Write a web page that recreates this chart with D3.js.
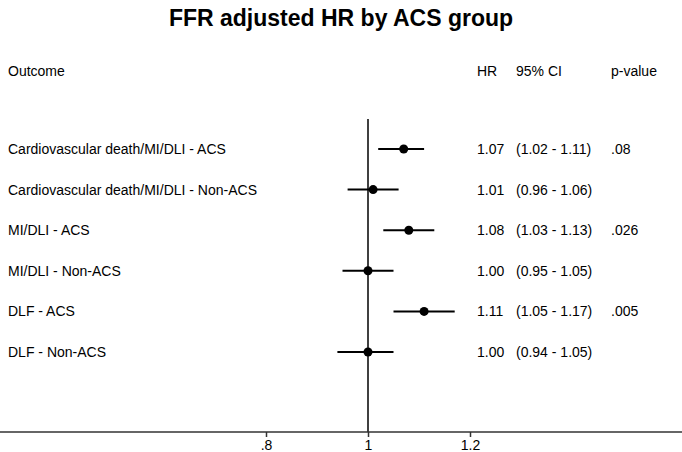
<!DOCTYPE html>
<html>
<head>
<meta charset="utf-8">
<script src="https://cdn.jsdelivr.net/npm/d3@7"></script>
<style>
  body { margin: 0; background: #fff; }
  svg { display: block; font-family: "Liberation Sans", Arial, sans-serif; }
</style>
</head>
<body>
<svg id="chart" width="682" height="452"></svg>
<script>
// outcomes and estimates
var outcomes = [
  "Cardiovascular death/MI/DLI - ACS",
  "Cardiovascular death/MI/DLI - Non-ACS",
  "MI/DLI - ACS",
  "MI/DLI - Non-ACS",
  "DLF - ACS",
  "DLF - Non-ACS"
];
var hr = [1.07, 1.01, 1.08, 1.00, 1.11, 1.00];
var ciLow = [1.02, 0.96, 1.03, 0.95, 1.05, 0.94];
var ciHigh = [1.11, 1.06, 1.13, 1.05, 1.17, 1.05];
var pValues = [".08", "", ".026", "", ".005", ""];
var tickValues = [0.8, 1, 1.2];
var tickLabels = [".8", "1", "1.2"];

var width = 682, height = 452;
var svg = d3.select("#chart");

// linear x scale (.8 -> 266, 1.2 -> 470)
var x = d3.scaleLinear().domain([0.8, 1.2]).range([266, 470]);
var y = d3.scalePoint().domain(outcomes).range([149, 352]);
var axisY = 432;
var fs = "14px";

// title
svg.append("text")
  .attr("x", width / 2)
  .attr("y", 26)
  .attr("text-anchor", "middle")
  .style("font-size", "23px")
  .style("font-weight", "bold")
  .text("FFR adjusted HR by ACS group");

// column headers
var colOutcome = 8, colHR = 477, colCI = 516, colP = 611;
var headY = 71;
[["Outcome", colOutcome], ["HR", colHR], ["95% CI", colCI], ["p-value", colP]].forEach(function(h){
  svg.append("text")
    .attr("x", h[1])
    .attr("y", headY)
    .attr("dy", "0.35em")
    .style("font-size", fs)
    .text(h[0]);
});

// reference line at HR = 1
svg.append("line")
  .attr("x1", x(1)).attr("x2", x(1))
  .attr("y1", 119).attr("y2", axisY)
  .attr("stroke", "#000")
  .attr("stroke-width", 1.5);

// x axis
var xAxis = d3.axisBottom(x)
  .tickValues(tickValues)
  .tickFormat(function(d, i){ return tickLabels[i]; })
  .tickSize(5)
  .tickSizeOuter(0);

var gx = svg.append("g")
  .attr("transform", "translate(0," + axisY + ")")
  .call(xAxis);
gx.select(".domain").remove();
gx.selectAll(".tick line").attr("stroke", "#333").attr("stroke-width", 1.5);
gx.selectAll(".tick text")
  .attr("y", 8)
  .style("font-size", fs)
  .style("font-family", "'Liberation Sans', Arial, sans-serif")
  .attr("fill", "#000");

// full-width axis line
svg.append("line")
  .attr("x1", x(x.invert(0))).attr("x2", x(x.invert(width)))
  .attr("y1", axisY).attr("y2", axisY)
  .attr("stroke", "#333")
  .attr("stroke-width", 1.5);

// rows
var rows = svg.selectAll("g.row")
  .data(outcomes)
  .enter().append("g")
  .attr("class", "row")
  .attr("transform", function(d){ return "translate(0," + y(d) + ")"; });

rows.append("line")
  .attr("x1", function(d, i){ return x(ciLow[i]); })
  .attr("x2", function(d, i){ return x(ciHigh[i]); })
  .attr("stroke", "#000")
  .attr("stroke-width", 2);

rows.append("circle")
  .attr("cx", function(d, i){ return x(hr[i]); })
  .attr("r", 4.5)
  .attr("fill", "#000");

rows.append("text")
  .attr("x", colOutcome)
  .attr("dy", "0.35em")
  .style("font-size", fs)
  .text(function(d){ return d; });

rows.append("text")
  .attr("x", colHR)
  .attr("dy", "0.35em")
  .style("font-size", fs)
  .text(function(d, i){ return hr[i].toFixed(2); });

rows.append("text")
  .attr("x", colCI)
  .attr("dy", "0.35em")
  .style("font-size", fs)
  .text(function(d, i){ return "(" + ciLow[i].toFixed(2) + " - " + ciHigh[i].toFixed(2) + ")"; });

rows.append("text")
  .attr("x", colP)
  .attr("dy", "0.35em")
  .style("font-size", fs)
  .text(function(d, i){ return pValues[i]; });
</script>
</body>
</html>
